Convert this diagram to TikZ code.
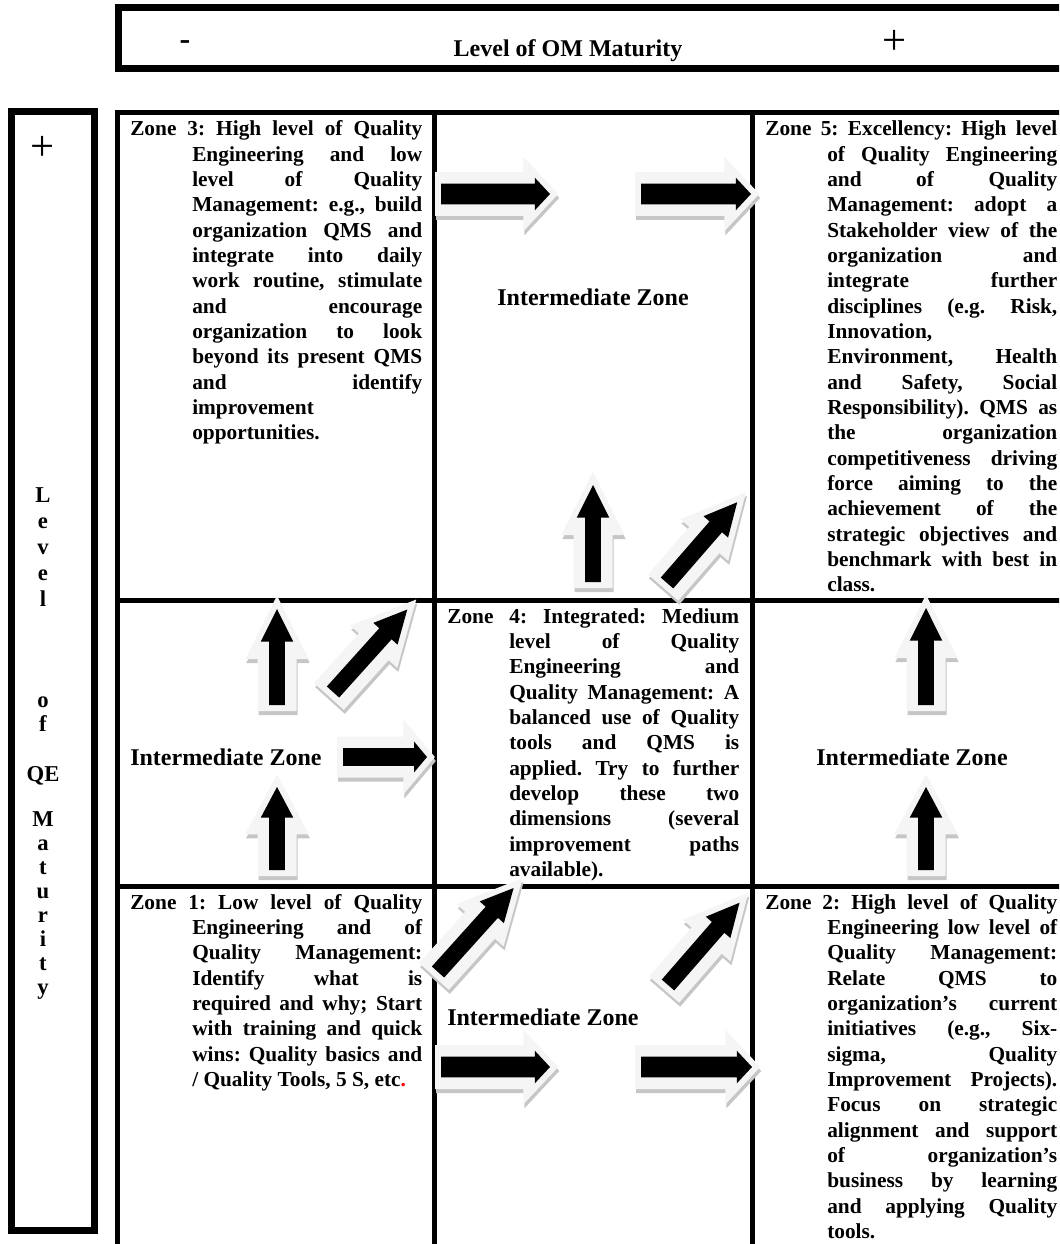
\documentclass[tikz,border=0pt]{standalone}
\usepackage{fontspec}
\setmainfont{Liberation Serif}
\usetikzlibrary{shapes.arrows}
\frenchspacing
\tolerance=10000
\hbadness=10000
\hyphenpenalty=10000
\exhyphenpenalty=10000
\tikzset{
  every picture/.style={x=0.75pt, y=-0.75pt},
  gridline/.style={line width=3.75pt, line cap=rect},
  barframe/.style={line width=5.25pt},
  zone/.style={anchor=base west, inner sep=0pt, text width=219pt, align=justify,
    font=\bfseries\fontsize{16}{19}\selectfont},
  inter/.style={inner sep=0pt, font=\bfseries\fontsize{18}{21}\selectfont},
  axisletter/.style={anchor=base, inner sep=0pt, font=\bfseries\fontsize{17}{19}\selectfont},
  signmark/.style={inner sep=0pt, font=\fontsize{32}{32}\selectfont},
  blockarrow/.style={single arrow, anchor=tail, inner xsep=0pt, outer sep=0pt,
    single arrow head indent=0pt, line join=miter},
  arrowshadow/.style={blockarrow, fill=gray!45, draw=gray!45, line width=9pt},
  arrowglow/.style={blockarrow, fill=gray!8, draw=gray!8, line width=9pt},
  arrowcore/.style={blockarrow, fill=black},
}
\newcommand{\zonehang}{\hangindent=46.5pt\hangafter=1 }
\begin{document}
\begin{tikzpicture}
  \useasboundingbox (0,0) rectangle (1059,1244);
  \clip (0,0) rectangle (1059,1244);
  % axis frames
  \draw[barframe] (118.5,8) rectangle (1075,69);
  \draw[barframe] (11.5,111.5) rectangle (94.5,1230.5);
  \node[inter, anchor=base] (omlabel) at (568,57) {Level of OM Maturity};
  \node[inter, font=\bfseries\fontsize{24}{24}\selectfont] (omminus) at (185,45) {-};
  \node[signmark] (omplus) at (895,42) {+};
  \node[signmark] (qeplus) at (43,148) {+};
  \foreach \ch/\yy [count=\i] in {L/502, e/528, v/554, e/580, l/606, o/707, f/731, QE/781,
      M/826, a/850, t/874, u/898, r/922, i/946, t/970, y/994}
    \node[axisletter] (qe\i) at (43,\yy) {\ch};
  % grid
  \draw[gridline] (117.5,113) -- (1075,113);
  \draw[gridline] (117.5,113) -- (117.5,1250);
  \foreach \gx in {434,752} \draw[gridline] (\gx,113) -- (\gx,1250);
  \foreach \gy in {600,886} \draw[gridline] (117.5,\gy) -- (1075,\gy);
  % block arrows: tail x/tail y/angle/length/shaft/head/tip angle
  \foreach \ax/\ay/\ang/\alen/\ashaft/\ahead/\atip [count=\k] in {
      441/194/0/109/20/32/94, 641/194/0/110/20/32/94, 593/582/90/97/15/32/53, 667/583/49/107/16/32/53,
      277/705/90/96/15/32/53, 333/692/48/111/16/32/53, 343/757/0/84/17/30/100, 277/870/90/83/15/32/56,
      926/705/90/97/15/32/53, 926/870/90/83/15/32/56,
      438/972/48/113/16/32/53, 668/985/49/109/16/32/53, 441/1067/0/109/20/32/94, 641/1067/0/111/20/32/94} {
    \pgfmathsetmacro\arlen{0.75*\alen}
    \pgfmathsetmacro\arhalf{0.375*\ashaft}
    \pgfmathsetmacro\arext{0.375*(\ahead-\ashaft)}
    \tikzset{arrowdims/.style={rotate=\ang, minimum height=\arlen pt, inner ysep=\arhalf pt,
      single arrow head extend=\arext pt, single arrow tip angle=\atip}}
    \node[arrowshadow, arrowdims] at (\ax+1,\ay+4) {};
    \node[arrowglow, arrowdims] at (\ax,\ay) {};
    \node[arrowcore, arrowdims] (move\k) at (\ax,\ay) {};
  }
  % zone texts
  \node[zone] (zone3) at (130,136) {\zonehang Zone 3: High level of Quality\linebreak
    Engineering and low\linebreak level of Quality\linebreak Management: e.g., build\linebreak
    organization QMS and\linebreak integrate into daily\linebreak work routine, stimulate\linebreak
    and encourage\linebreak organization to look\linebreak beyond its present QMS\linebreak
    and identify\linebreak improvement\linebreak opportunities.\par};
  \node[zone] (zone5) at (765,136) {\zonehang Zone 5: Excellency: High level\linebreak
    of Quality Engineering\linebreak and of Quality\linebreak Management: adopt a\linebreak
    Stakeholder view of the\linebreak organization and\linebreak integrate further\linebreak
    disciplines (e.g. Risk,\linebreak Innovation,\linebreak Environment, Health\linebreak
    and Safety, Social\linebreak Responsibility). QMS as\linebreak the organization\linebreak
    competitiveness driving\linebreak force aiming to the\linebreak achievement of the\linebreak
    strategic objectives and\linebreak benchmark with best in\linebreak class.\par};
  \node[zone] (zone4) at (447,623) {\zonehang Zone 4: Integrated: Medium\linebreak
    level of Quality\linebreak Engineering and\linebreak Quality Management: A\linebreak
    balanced use of Quality\linebreak tools and QMS is\linebreak applied. Try to further\linebreak
    develop these two\linebreak dimensions (several\linebreak improvement paths\linebreak
    available).\par};
  \node[zone] (zone1) at (130,909) {\zonehang Zone 1: Low level of Quality\linebreak
    Engineering and of\linebreak Quality Management:\linebreak Identify what is\linebreak
    required and why; Start\linebreak with training and quick\linebreak
    wins: Quality basics and\linebreak / Quality Tools, 5 S, etc\textcolor{red}{.}\par};
  \node[zone] (zone2) at (765,909) {\zonehang Zone 2: High level of Quality\linebreak
    Engineering low level of\linebreak Quality Management:\linebreak Relate QMS to\linebreak
    organization’s current\linebreak initiatives (e.g., Six-\linebreak sigma, Quality\linebreak
    Improvement Projects).\linebreak Focus on strategic\linebreak alignment and support\linebreak
    of organization’s\linebreak business by learning\linebreak and applying Quality\linebreak tools.\par};
  % intermediate zones
  \node[inter] (midtop) at (593,297) {Intermediate Zone};
  \node[inter, anchor=west] (midleft) at (130,757) {Intermediate Zone};
  \node[inter] (midright) at (912,757) {Intermediate Zone};
  \node[inter, anchor=west] (midbottom) at (447,1017) {Intermediate Zone};
\end{tikzpicture}
\end{document}
